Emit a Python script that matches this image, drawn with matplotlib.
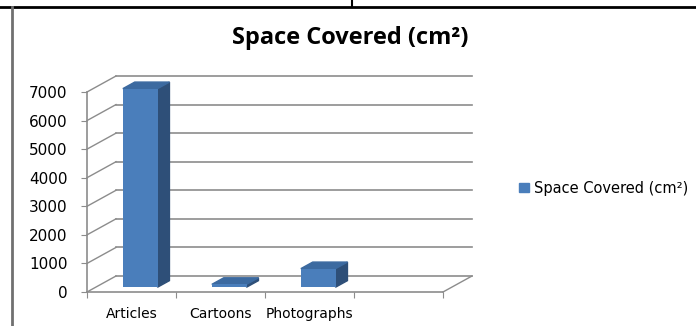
import matplotlib
matplotlib.use('Agg')
import matplotlib.pyplot as plt
from matplotlib.patches import Polygon, Patch
from matplotlib.lines import Line2D

# chart data
categories = ['Articles', 'Cartoons', 'Photographs']
space_cm2 = [6950, 100, 650]
y_ticks = [0, 1000, 2000, 3000, 4000, 5000, 6000, 7000]
series_name = 'Space Covered (cm²)'

n_slots = len(categories) + 1      # one empty slot on the right
depth_x, depth_y = 0.326, 560      # depth of the 3D box in data units
bar_w = 0.39
z_front, z_back = 0.30, 0.71       # bar position inside the depth

c_front = '#4a7ebb'
c_top = '#3c6aa0'
c_side = '#2e4f78'
c_grid = '#8c8c8c'

fig = plt.figure(figsize=(6.96, 3.26), dpi=100)
ax = fig.add_axes([87 / 696, 34 / 326, 356 / 696, 200 / 326])
ax.set_xlim(0, n_slots)
ax.set_ylim(0, y_ticks[-1])

# back wall gridlines and side wall diagonals
for v in y_ticks:
    ax.plot([depth_x, n_slots + depth_x], [v + depth_y, v + depth_y],
            color=c_grid, lw=1.2, clip_on=False, zorder=1)
    ax.plot([0, depth_x], [v, v + depth_y], color=c_grid, lw=1.0,
            clip_on=False, zorder=1)
ax.plot([n_slots, n_slots + depth_x], [0, depth_y], color=c_grid, lw=1.0,
        clip_on=False, zorder=1)

# 3D bars: front face from ax.bar, then top and side faces
centers = [i + 0.5 for i in range(len(categories))]
dz = z_back - z_front
bars = ax.bar([c + z_front * depth_x for c in centers], space_cm2, width=bar_w,
              bottom=z_front * depth_y, color=c_front, zorder=4, clip_on=False)
for b, v in zip(bars, space_cm2):
    x0, y0 = b.get_x(), b.get_y()
    x1, y1 = x0 + b.get_width(), y0 + v
    ddx, ddy = dz * depth_x, dz * depth_y
    side = Polygon([(x1, y0), (x1 + ddx, y0 + ddy), (x1 + ddx, y1 + ddy), (x1, y1)],
                   closed=True, color=c_side, zorder=3, clip_on=False)
    top = Polygon([(x0, y1), (x1, y1), (x1 + ddx, y1 + ddy), (x0 + ddx, y1 + ddy)],
                  closed=True, color=c_top, zorder=3, clip_on=False)
    ax.add_patch(side)
    ax.add_patch(top)

# axes
for s in ['top', 'right']:
    ax.spines[s].set_visible(False)
for s in ['left', 'bottom']:
    ax.spines[s].set_color(c_grid)
    ax.spines[s].set_linewidth(1.2)

ax.set_yticks(y_ticks)
ax.tick_params(axis='y', length=4, color=c_grid, pad=10, labelsize=11)
ax.set_xticks(range(n_slots + 1))
ax.set_xticklabels([''] * (n_slots + 1))
ax.set_xticks(centers, minor=True)
ax.set_xticklabels(categories, minor=True)
ax.tick_params(axis='x', which='major', length=4, color=c_grid)
ax.tick_params(axis='x', which='minor', length=0, pad=11, labelsize=10)

fig.text(350 / 696, 1 - 38 / 326, series_name, ha='center', va='center',
         fontsize=17, fontweight='bold', family='Open Sans')

fig.legend(handles=[Patch(color=c_front)], labels=[series_name],
           loc='center left', bbox_to_anchor=(506 / 696, 1 - 188 / 326),
           frameon=False, handlelength=0.65, handleheight=0.65,
           handletextpad=0.4, fontsize=10.5)

# page borders around the chart
fig.add_artist(Line2D([0, 1], [1 - 7 / 326] * 2, color='black', lw=2,
                      transform=fig.transFigure))
fig.add_artist(Line2D([352 / 696] * 2, [1, 1 - 7 / 326], color='black', lw=1.5,
                      transform=fig.transFigure))
fig.add_artist(Line2D([12 / 696] * 2, [1 - 7 / 326, 0], color='#707070', lw=2,
                      transform=fig.transFigure))

fig.savefig('out.png', dpi=100)
